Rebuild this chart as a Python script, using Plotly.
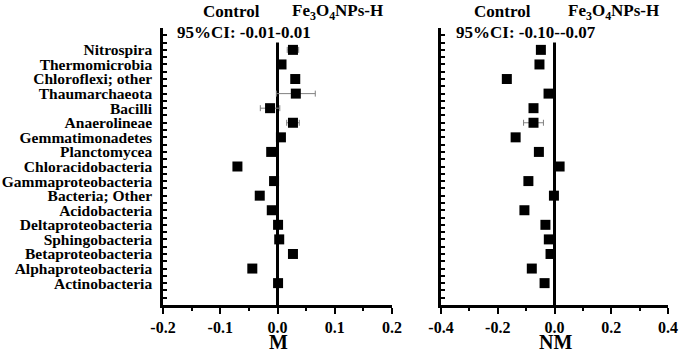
import plotly.graph_objects as go

categories = ["Nitrospira", "Thermomicrobia", "Chloroflexi; other", "Thaumarchaeota",
              "Bacilli", "Anaerolineae", "Gemmatimonadetes", "Planctomycea",
              "Chloracidobacteria", "Gammaproteobacteria", "Bacteria; Other",
              "Acidobacteria", "Deltaproteobacteria", "Sphingobacteria",
              "Betaproteobacteria", "Alphaproteobacteria", "Actinobacteria"]

m_values = [0.027, 0.007, 0.031, 0.032, -0.013, 0.027, 0.006, -0.011,
            -0.070, -0.006, -0.031, -0.010, 0.001, 0.003, 0.027, -0.044, 0.001]
m_errors = [0.010, 0.0, 0.0, 0.034, 0.017, 0.011, 0.0, 0.0,
            0.0, 0.0, 0.004, 0.0, 0.0, 0.0, 0.0, 0.0, 0.0]

nm_values = [-0.048, -0.053, -0.168, -0.021, -0.074, -0.074, -0.137, -0.055,
             0.018, -0.092, -0.002, -0.106, -0.032, -0.020, -0.014, -0.080, -0.035]
nm_errors = [0.0, 0.0, 0.0, 0.010, 0.0, 0.035, 0.0, 0.0,
             0.0, 0.0, 0.0, 0.0, 0.0, 0.0, 0.0, 0.0, 0.0]

m_ticks = [-0.2, -0.1, 0.0, 0.1, 0.2]
nm_ticks = [-0.4, -0.2, 0.0, 0.2, 0.4]

n = len(categories)
# Actinobacteria (last) at 1.5, Nitrospira (first) at 17.5
ypos = [1.5 + (n - 1 - i) for i in range(n)]

FONT = "Liberation Serif, Times New Roman, serif"

fig = go.Figure()
for vals, errs, xa, ya in [(m_values, m_errors, "x", "y"), (nm_values, nm_errors, "x2", "y2")]:
    fig.add_trace(go.Scatter(
        x=vals, y=ypos, mode="markers", xaxis=xa, yaxis=ya,
        marker=dict(symbol="square", size=10, color="black"),
        error_x=dict(type="data", array=errs, visible=True, color="#808080",
                     thickness=1, width=3),
        showlegend=False))

tickvals = [i * 0.5 for i in range(0, 39)]
ticktext = []
for v in tickvals:
    lab = ""
    for i, yp in enumerate(ypos):
        if abs(yp - v) < 1e-9:
            lab = "<b>" + categories[i] + "</b>"
    ticktext.append(lab)

ydom = [1 - 305 / 352, 1 - 28 / 352]
common_y = dict(range=[0, 19], domain=ydom, tickvals=tickvals, ticks="inside", ticklen=4,
                tickwidth=2, tickcolor="black", showline=True, linecolor="black",
                linewidth=2.5, showgrid=False, zeroline=False, mirror=False,
                automargin=False)


def xaxis_cfg(dom, rng, ticks, minor_vals, anchor):
    return dict(domain=dom, range=rng, tickvals=ticks,
                ticktext=["<b>%.1f</b>" % t for t in ticks],
                ticks="outside", ticklen=6, tickwidth=2, tickcolor="black",
                minor=dict(tickvals=minor_vals, ticks="outside", ticklen=3,
                           tickwidth=2, tickcolor="black"),
                showline=True, linecolor="black", linewidth=2.5, showgrid=False,
                zeroline=True, zerolinecolor="black", zerolinewidth=2.5,
                tickfont=dict(size=16), anchor=anchor, automargin=False)


fig.update_layout(
    width=680, height=352,
    margin=dict(l=0, r=0, t=0, b=0),
    plot_bgcolor="white", paper_bgcolor="white",
    font=dict(family=FONT, color="black"),
    xaxis=xaxis_cfg([163 / 680, 392 / 680], [-0.2, 0.2], m_ticks, [-0.15, -0.05, 0.05, 0.15], "y"),
    xaxis2=xaxis_cfg([441 / 680, 668 / 680], [-0.4, 0.4], nm_ticks, [-0.3, -0.1, 0.1, 0.3], "y2"),
    yaxis=dict(**common_y, ticktext=ticktext, tickfont=dict(size=15.5),
               ticklabelstandoff=5, anchor="x"),
    yaxis2=dict(**common_y, ticktext=[""] * len(tickvals), anchor="x2"),
)

annots = [
    ("<b>Control</b>", 231, 12, 17, False),
    ("<b>Fe<sub>3</sub>O<sub>4</sub>NPs-H</b>", 337, 12, 17, False),
    ("<b>95%CI: -0.01-0.01</b>", 244, 32, 17, True),
    ("<b>Control</b>", 502, 12, 17, False),
    ("<b>Fe<sub>3</sub>O<sub>4</sub>NPs-H</b>", 613, 12, 17, False),
    ("<b>95%CI: -0.10--0.07</b>", 526, 32, 17, True),
    ("<b>M</b>", 278, 342, 20, False),
    ("<b>NM</b>", 555, 342, 20, False),
]
for text, px, py, sz, bg in annots:
    fig.add_annotation(text=text, x=px / 680, y=1 - py / 352, xref="paper", yref="paper",
                       xanchor="center", yanchor="middle", showarrow=False,
                       bgcolor="white" if bg else "rgba(0,0,0,0)", borderpad=0,
                       font=dict(size=sz, family=FONT, color="black"))

fig.write_html("out.html", config={"displayModeBar": False},
               post_script="document.body.style.margin='0';")
